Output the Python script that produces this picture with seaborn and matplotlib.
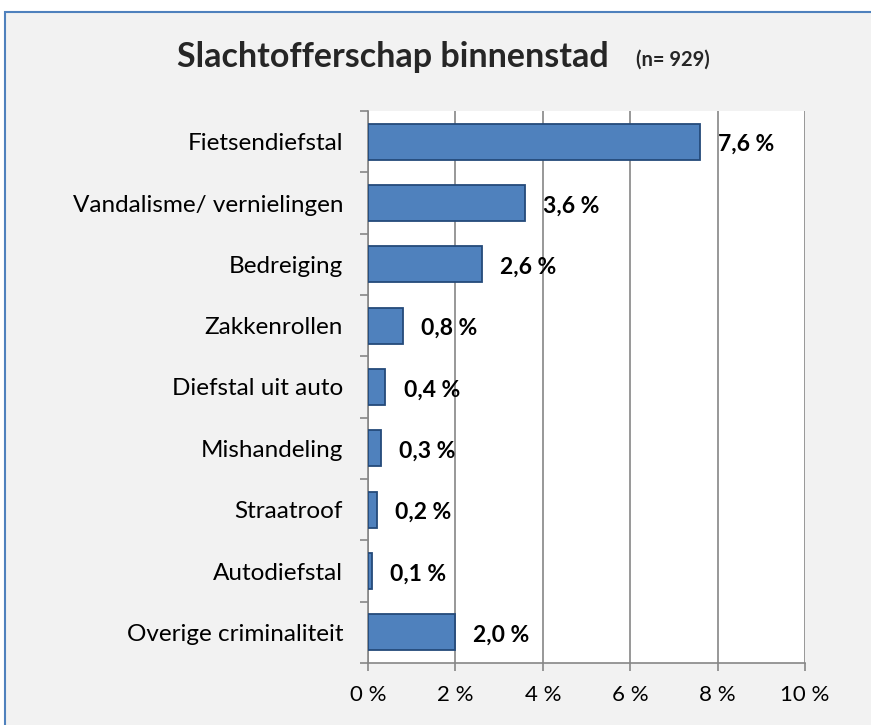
import numpy as np
import pandas as pd
import matplotlib
matplotlib.use("Agg")
import matplotlib.pyplot as plt
import seaborn as sns
from matplotlib.patches import Rectangle
from matplotlib.ticker import FixedLocator, FuncFormatter

categories = ["Fietsendiefstal", "Vandalisme/ vernielingen", "Bedreiging",
              "Zakkenrollen", "Diefstal uit auto", "Mishandeling",
              "Straatroof", "Autodiefstal", "Overige criminaliteit"]
values = [7.6, 3.6, 2.6, 0.8, 0.4, 0.3, 0.2, 0.1, 2.0]
value_labels = ["7,6 %", "3,6 %", "2,6 %", "0,8 %", "0,4 %", "0,3 %",
                "0,2 %", "0,1 %", "2,0 %"]

sns.set_theme(style="white")
plt.rcParams["font.family"] = ["Lato", "DejaVu Sans"]

df = pd.DataFrame({"cat": categories, "val": values})

fig = plt.figure(figsize=(8.71, 7.25), dpi=100)
fig.patch.set_facecolor("white")
fig.patches.append(Rectangle((5 / 871, -0.05), 1.1, 1 - 12 / 725 + 0.05,
                             transform=fig.transFigure, facecolor="#F2F2F2",
                             edgecolor="#4F81BD", linewidth=1.5, zorder=-10))

ax = fig.add_axes([368 / 871, 1 - 663 / 725, 437 / 871, 552 / 725])
ax.set_facecolor("white")
sns.barplot(data=df, x="val", y="cat", orient="h", color="#4F81BD",
            saturation=1, width=0.59, edgecolor="#244A7A", linewidth=1.3,
            ax=ax, zorder=3)

ax.set_xlim(0, 10)
ax.set_ylim(len(categories) - 0.5, -0.5)
ax.set_xticks([0, 2, 4, 6, 8, 10])
ax.xaxis.set_major_formatter(FuncFormatter(lambda v, p: f"{int(v)} %"))
ax.grid(axis="x", color="#868686", linewidth=1.2, zorder=0)
ax.set_axisbelow(True)
ax.set_xlabel("")
ax.set_ylabel("")

for s in ["top", "right"]:
    ax.spines[s].set_visible(False)
for s in ["left", "bottom"]:
    ax.spines[s].set_color("#868686")
    ax.spines[s].set_linewidth(1.2)

ax.tick_params(axis="x", which="major", bottom=True, length=6, width=1.2,
               color="#868686", labelsize=16, labelcolor="black", pad=10)
ax.tick_params(axis="y", which="major", left=False, labelsize=17.5,
               labelcolor="black", pad=12)
ax.yaxis.set_minor_locator(FixedLocator(np.arange(-0.5, len(categories), 1)))
ax.tick_params(axis="y", which="minor", left=True, length=6, width=1.2,
               color="#868686")

# labels sit ~16 px to the right of each bar end
for i, (v, lab) in enumerate(zip(values, value_labels)):
    ax.annotate(lab, xy=(v, i), xytext=(13, -2),
                textcoords="offset points", ha="left", va="center",
                fontsize=16.5, fontweight="bold", color="black", zorder=5)

fig.text(393 / 871, 1 - 57 / 725, "Slachtofferschap binnenstad",
         ha="center", va="center", fontsize=24.5, fontweight="bold")
fig.text(636 / 871, 1 - 60 / 725, "(n= 929)", ha="left", va="center",
         fontsize=14.5, fontweight="bold")

fig.savefig("out.png", dpi=100)
